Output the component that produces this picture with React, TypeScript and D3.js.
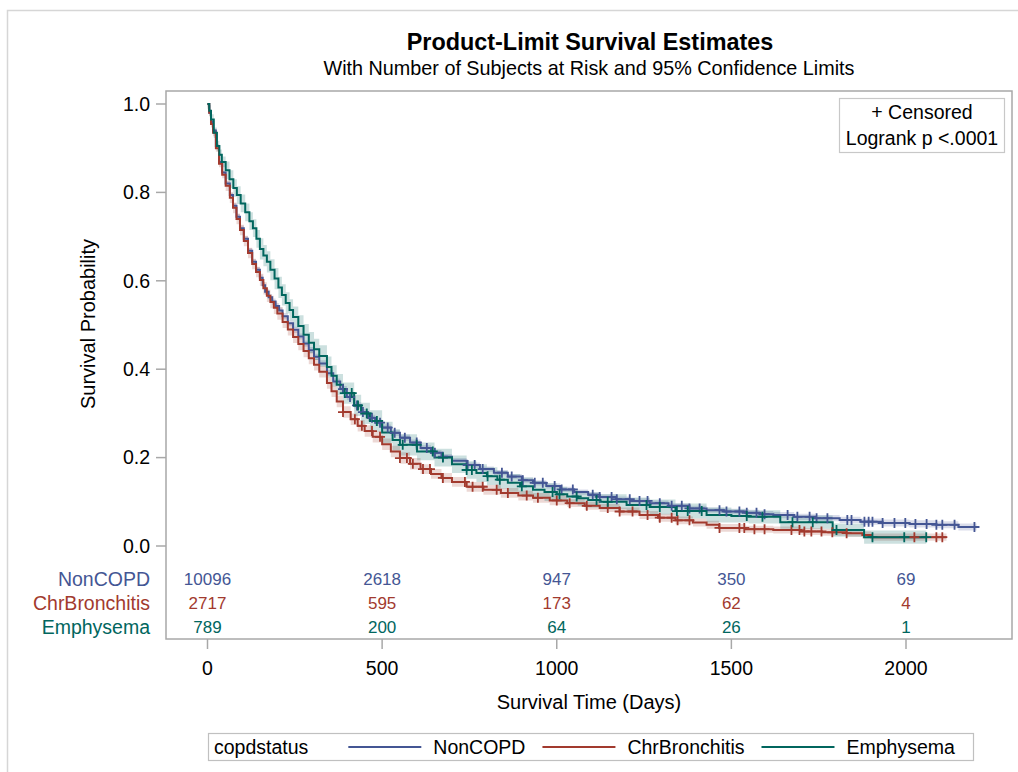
import React, { useEffect, useRef } from 'react';
import * as d3 from 'd3';

// Kaplan-Meier step values (days, survival)
const nonCopdTimes = [0, 5, 10, 16, 24, 33, 42, 52, 64, 73, 83, 93, 104, 116, 128, 139, 150, 158, 165, 175, 185, 195, 205, 215, 230, 245, 260, 275, 290, 305, 320, 342, 360, 380, 399, 420, 440, 460, 480, 500, 525, 551, 580, 610, 640, 670, 700, 742, 780, 820, 860, 900, 932, 970, 1010, 1050, 1090, 1123, 1170, 1210, 1266, 1320, 1380, 1429, 1480, 1540, 1580, 1620, 1680, 1740, 1810, 1870, 1933, 2010, 2087, 2150, 2202];
const nonCopdSurv = [1, 0.98, 0.96, 0.94, 0.905, 0.869, 0.845, 0.82, 0.794, 0.77, 0.745, 0.719, 0.695, 0.668, 0.643, 0.625, 0.607, 0.59, 0.575, 0.563, 0.553, 0.543, 0.533, 0.52, 0.504, 0.489, 0.474, 0.458, 0.443, 0.428, 0.413, 0.391, 0.372, 0.355, 0.337, 0.318, 0.303, 0.29, 0.279, 0.268, 0.256, 0.245, 0.234, 0.222, 0.211, 0.202, 0.193, 0.183, 0.174, 0.166, 0.157, 0.149, 0.143, 0.136, 0.128, 0.122, 0.116, 0.111, 0.106, 0.102, 0.097, 0.091, 0.085, 0.081, 0.078, 0.075, 0.072, 0.07, 0.066, 0.063, 0.059, 0.055, 0.052, 0.05, 0.048, 0.043, 0.041];

const chrBronchitisTimes = [0, 5, 10, 16, 24, 33, 42, 52, 64, 73, 83, 93, 104, 116, 128, 139, 150, 160, 170, 180, 190, 200, 215, 230, 245, 260, 275, 290, 305, 320, 342, 355, 370, 388, 410, 430, 450, 473, 500, 525, 551, 580, 610, 640, 670, 700, 742, 790, 840, 890, 932, 980, 1030, 1080, 1123, 1180, 1237, 1290, 1340, 1390, 1429, 1465, 1540, 1620, 1700, 1760, 1830, 1875, 1900, 2000, 2116];
const chrBronchitisSurv = [1, 0.98, 0.955, 0.935, 0.9, 0.865, 0.84, 0.815, 0.788, 0.765, 0.74, 0.715, 0.69, 0.663, 0.638, 0.62, 0.602, 0.583, 0.566, 0.552, 0.539, 0.526, 0.507, 0.49, 0.473, 0.457, 0.441, 0.425, 0.41, 0.394, 0.369, 0.35, 0.327, 0.303, 0.287, 0.272, 0.26, 0.247, 0.23, 0.214, 0.199, 0.186, 0.174, 0.163, 0.154, 0.145, 0.134, 0.127, 0.12, 0.114, 0.109, 0.103, 0.097, 0.091, 0.086, 0.078, 0.07, 0.064, 0.058, 0.053, 0.048, 0.041, 0.038, 0.036, 0.033, 0.031, 0.029, 0.025, 0.02, 0.02, 0.02];

const emphysemaTimes = [0, 5, 10, 18, 27, 34, 41, 52, 63, 74, 84, 95, 108, 120, 130, 140, 150, 160, 170, 180, 192, 203, 213, 224, 235, 245, 260, 275, 290, 305, 320, 342, 355, 370, 388, 420, 440, 465, 500, 530, 551, 600, 650, 700, 742, 770, 800, 830, 860, 895, 932, 965, 1000, 1030, 1060, 1090, 1123, 1200, 1266, 1340, 1429, 1500, 1550, 1640, 1790, 1880, 2058];
const emphysemaSurv = [1, 0.985, 0.965, 0.935, 0.905, 0.885, 0.869, 0.85, 0.83, 0.81, 0.794, 0.775, 0.755, 0.735, 0.719, 0.695, 0.672, 0.657, 0.643, 0.625, 0.605, 0.585, 0.568, 0.55, 0.534, 0.518, 0.498, 0.478, 0.46, 0.445, 0.43, 0.405, 0.385, 0.365, 0.346, 0.318, 0.3, 0.283, 0.257, 0.24, 0.229, 0.214, 0.2, 0.185, 0.172, 0.165, 0.158, 0.15, 0.143, 0.135, 0.127, 0.122, 0.117, 0.112, 0.108, 0.104, 0.1, 0.093, 0.088, 0.079, 0.07, 0.068, 0.066, 0.054, 0.036, 0.02, 0.02];

// censored observation times
const nonCopdCensor = [388, 408, 428, 445, 471, 494, 516, 536, 565, 599, 628, 651, 674, 745, 765, 788, 843, 871, 903, 937, 960, 994, 1014, 1046, 1103, 1123, 1157, 1172, 1209, 1237, 1260, 1295, 1329, 1358, 1380, 1409, 1466, 1486, 1523, 1544, 1572, 1595, 1661, 1689, 1724, 1744, 1775, 1832, 1844, 1881, 1893, 1904, 1933, 1967, 1998, 2027, 2059, 2087, 2104, 2139, 2196];
const chrBronchitisCensor = [388, 422, 442, 471, 494, 551, 571, 588, 617, 637, 674, 737, 759, 788, 828, 860, 914, 946, 1000, 1037, 1086, 1146, 1180, 1217, 1260, 1295, 1329, 1346, 1380, 1466, 1523, 1537, 1566, 1595, 1672, 1695, 1709, 1729, 1758, 1789, 1830, 2024, 2087, 2104];
const emphysemaCensor = [393, 413, 431, 456, 485, 559, 599, 645, 674, 742, 757, 802, 837, 900, 988, 1008, 1057, 1114, 1146, 1257, 1295, 1344, 1375, 1415, 1544, 1589, 1675, 1733, 1801, 1904, 1995, 2058];

// 95% confidence half-widths, by time band
const bandBreaks = [0, 50, 150, 300, 600, 1000, 1500, 1900];
const nonCopdBand = [0.004, 0.006, 0.007, 0.007, 0.006, 0.006, 0.007, 0.008];
const chrBronchitisBand = [0.008, 0.012, 0.014, 0.013, 0.011, 0.009, 0.008, 0.008];
const emphysemaBand = [0.012, 0.02, 0.024, 0.024, 0.02, 0.017, 0.015, 0.012];

// number at risk
const atRiskTimes = [0, 500, 1000, 1500, 2000];
const nonCopdAtRisk = [10096, 2618, 947, 350, 69];
const chrBronchitisAtRisk = [2717, 595, 173, 62, 4];
const emphysemaAtRisk = [789, 200, 64, 26, 1];

const groupNames = ['NonCOPD', 'ChrBronchitis', 'Emphysema'];
const groupColors = ['#445694', '#A23A2E', '#01665E'];
const xTicks = [0, 500, 1000, 1500, 2000];
const yTicks = [0, 0.2, 0.4, 0.6, 0.8, 1.0];

const FONT = '"Liberation Sans", Arial, sans-serif';

function stepAt(times: number[], vals: number[], t: number) {
  const i = d3.bisectRight(times, t) - 1;
  return vals[Math.max(0, i)];
}

export default function App() {
  const ref = useRef<SVGSVGElement>(null);

  useEffect(() => {
    document.body.style.margin = '0';
    const svg = d3.select(ref.current);
    svg.selectAll('*').remove();

    const frame = { left: 166, top: 91, right: 1012, bottom: 639 };
    const x = d3.scaleLinear().domain([0, 2000]).range([207.5, 906]);
    const y = d3.scaleLinear().domain([0, 1]).range([546, 104]);

    const series = [
      { times: nonCopdTimes, surv: nonCopdSurv, censor: nonCopdCensor, band: nonCopdBand, atRisk: nonCopdAtRisk },
      { times: chrBronchitisTimes, surv: chrBronchitisSurv, censor: chrBronchitisCensor, band: chrBronchitisBand, atRisk: chrBronchitisAtRisk },
      { times: emphysemaTimes, surv: emphysemaSurv, censor: emphysemaCensor, band: emphysemaBand, atRisk: emphysemaAtRisk },
    ].map((s, i) => ({ ...s, name: groupNames[i], color: groupColors[i] }));

    // outer border
    svg.append('rect')
      .attr('x', 7.5).attr('y', 10.5).attr('width', 1100).attr('height', 900)
      .attr('fill', 'none').attr('stroke', '#d6d6d6').attr('stroke-width', 1.5);

    // titles
    svg.append('text')
      .attr('x', 590).attr('y', 50).attr('text-anchor', 'middle')
      .attr('font-family', FONT).attr('font-size', 23.4).attr('font-weight', 'bold')
      .text('Product-Limit Survival Estimates');
    svg.append('text')
      .attr('x', 589).attr('y', 75).attr('text-anchor', 'middle')
      .attr('font-family', FONT).attr('font-size', 19.8)
      .text('With Number of Subjects at Risk and 95% Confidence Limits');

    // confidence bands
    series.forEach(s => {
      const pts = s.times.map((t, i) => ({ t, v: s.surv[i], h: stepAt(bandBreaks, s.band, t) }));
      const area = d3.area<any>()
        .curve(d3.curveStepAfter)
        .x(d => x(d.t))
        .y0(d => y(Math.max(0, d.v - d.h)))
        .y1(d => y(Math.min(1, d.v + d.h)));
      svg.append('path').attr('d', area(pts)).attr('fill', s.color).attr('fill-opacity', 0.2);
    });

    // survival curves
    series.forEach(s => {
      const pts = s.times.map((t, i) => [t, s.surv[i]] as [number, number]);
      const line = d3.line().curve(d3.curveStepAfter).x(d => x(d[0])).y(d => y(d[1]));
      svg.append('path').attr('d', line(pts)).attr('fill', 'none')
        .attr('stroke', s.color).attr('stroke-width', 2);
    });

    // censor marks
    series.forEach(s => {
      svg.append('g').selectAll('path').data(s.censor).enter().append('path')
        .attr('d', t => {
          const cx = x(t), cy = y(stepAt(s.times, s.surv, t));
          return `M${cx - 5},${cy}H${cx + 5}M${cx},${cy - 5}V${cy + 5}`;
        })
        .attr('stroke', s.color).attr('stroke-width', 1.8).attr('fill', 'none');
    });

    // frame
    svg.append('rect')
      .attr('x', frame.left).attr('y', frame.top)
      .attr('width', frame.right - frame.left).attr('height', frame.bottom - frame.top)
      .attr('fill', 'none').attr('stroke', '#a8a8a8').attr('stroke-width', 1.5);

    // y axis
    const yAxis = svg.append('g');
    yAxis.selectAll('line').data(yTicks).enter().append('line')
      .attr('x1', frame.left - 10).attr('x2', frame.left)
      .attr('y1', d => y(d)).attr('y2', d => y(d))
      .attr('stroke', '#a8a8a8').attr('stroke-width', 1.5);
    yAxis.selectAll('text').data(yTicks).enter().append('text')
      .attr('x', 150).attr('y', d => y(d)).attr('dy', '0.35em')
      .attr('text-anchor', 'end').attr('font-family', FONT).attr('font-size', 19.5)
      .text(d => d3.format('.1f')(d));
    svg.append('text')
      .attr('transform', `translate(95,324) rotate(-90)`)
      .attr('text-anchor', 'middle').attr('font-family', FONT).attr('font-size', 20)
      .text('Survival Probability');

    // x axis
    const xAxis = svg.append('g');
    xAxis.selectAll('line').data(xTicks).enter().append('line')
      .attr('x1', d => x(d)).attr('x2', d => x(d))
      .attr('y1', frame.bottom).attr('y2', frame.bottom + 10)
      .attr('stroke', '#a8a8a8').attr('stroke-width', 1.5);
    xAxis.selectAll('text').data(xTicks).enter().append('text')
      .attr('x', d => x(d)).attr('y', 675)
      .attr('text-anchor', 'middle').attr('font-family', FONT).attr('font-size', 19.5)
      .text(d => String(d));
    svg.append('text')
      .attr('x', 589).attr('y', 709).attr('text-anchor', 'middle')
      .attr('font-family', FONT).attr('font-size', 20)
      .text('Survival Time (Days)');

    // at-risk table
    const rowY = [579, 603, 627];
    series.forEach((s, i) => {
      svg.append('text')
        .attr('x', 150).attr('y', rowY[i]).attr('dy', '0.35em').attr('text-anchor', 'end')
        .attr('font-family', FONT).attr('font-size', 19.5).attr('fill', s.color)
        .text(s.name);
      svg.append('g').selectAll('text').data(s.atRisk).enter().append('text')
        .attr('x', (_, j) => x(atRiskTimes[j])).attr('y', rowY[i]).attr('dy', '0.35em')
        .attr('text-anchor', 'middle').attr('font-family', FONT).attr('font-size', 17)
        .attr('fill', s.color)
        .text(d => String(d));
    });

    // inset box
    svg.append('rect')
      .attr('x', 839.5).attr('y', 98.5).attr('width', 165).attr('height', 54)
      .attr('fill', 'white').attr('stroke', '#c8c8c8').attr('stroke-width', 1.2);
    svg.append('text')
      .attr('x', 922).attr('y', 112).attr('dy', '0.35em').attr('text-anchor', 'middle')
      .attr('font-family', FONT).attr('font-size', 19.5).text('+ Censored');
    svg.append('text')
      .attr('x', 922).attr('y', 138).attr('dy', '0.35em').attr('text-anchor', 'middle')
      .attr('font-family', FONT).attr('font-size', 19.5).text('Logrank p <.0001');

    // legend
    svg.append('rect')
      .attr('x', 208.5).attr('y', 733.5).attr('width', 765).attr('height', 27)
      .attr('fill', 'white').attr('stroke', '#c0c0c0').attr('stroke-width', 1.2);
    const legY = 747;
    const head = svg.append('text')
      .attr('x', 214).attr('y', legY).attr('dy', '0.35em')
      .attr('font-family', FONT).attr('font-size', 19.5).text('copdstatus');
    let cursor = 214 + (head.node() as SVGTextElement).getComputedTextLength() + 40;
    series.forEach(s => {
      svg.append('line')
        .attr('x1', cursor).attr('x2', cursor + 73).attr('y1', legY).attr('y2', legY)
        .attr('stroke', s.color).attr('stroke-width', 2);
      const t = svg.append('text')
        .attr('x', cursor + 85).attr('y', legY).attr('dy', '0.35em')
        .attr('font-family', FONT).attr('font-size', 19.5).text(s.name);
      cursor += 85 + (t.node() as SVGTextElement).getComputedTextLength() + 17;
    });
  }, []);

  return <svg ref={ref} width={1018} height={772} style={{ display: 'block' }} />;
}
